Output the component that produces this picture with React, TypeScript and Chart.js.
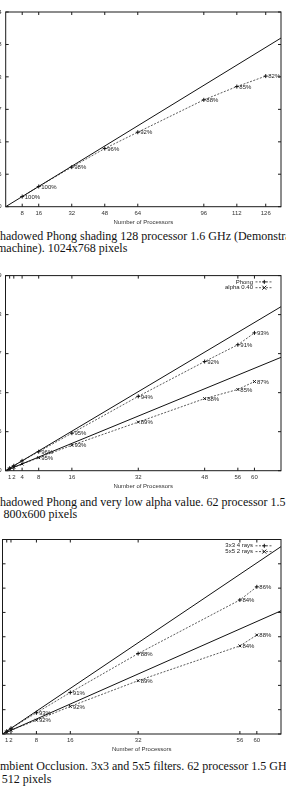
import React, { useEffect, useRef } from 'react';
import { Chart, registerables } from 'chart.js';

Chart.register(...registerables);

// ---------- Data: figure 1 (128 processors, Phong) ----------
const PROCS_1 = [8, 16, 32, 48, 64, 96, 112, 126];
const SPEEDUP_1 = [8.0, 16.0, 31.3, 46.0, 58.9, 84.5, 95.0, 103.3];
const EFF_1 = ['100%', '100%', '98%', '96%', '92%', '88%', '85%', '82%'];
const XTICKS_1 = [8, 16, 32, 48, 64, 96, 112, 126];
const YTICKS_1 = [0, 25.7, 51.3, 77, 102.7, 128.3, 154];
const IDEAL_X_1 = [0, 133.4];
const IDEAL_Y_1 = [0, 133.4];

// ---------- Data: figure 2 (Phong / alpha 0.40) ----------
const PROCS_2 = [1, 2, 4, 8, 16, 32, 48, 56, 60];
const PHONG_2 = [1, 2, 4, 7.7, 15.2, 30.1, 44.2, 51.0, 55.8];
const PHONG_EFF_2 = ['', '', '', '96%', '95%', '94%', '92%', '91%', '93%'];
const ALPHA_2 = [0.69, 1.38, 2.7, 5.25, 10.3, 19.7, 29.2, 32.9, 36.1];
const ALPHA_EFF_2 = ['', '', '', '95%', '93%', '89%', '88%', '85%', '87%'];
const XTICKS_2 = [1, 2, 4, 8, 16, 32, 48, 56, 60];
const YTICKS_2 = [0, 15.8, 31.6, 47.4, 63.2, 79];
const IDEAL_X_2 = [0, 66.4];
const IDEAL_PHONG_2 = [0, 66.4];
const IDEAL_ALPHA_2 = [0, 45.9];

// ---------- Data: figure 3 (Ambient occlusion) ----------
const PROCS_3 = [1, 2, 8, 16, 32, 56, 60];
const RAYS4_3 = [1, 2, 7.44, 14.56, 28.2, 47.0, 51.6];
const RAYS4_EFF_3 = ['', '', '93%', '91%', '88%', '84%', '86%'];
const RAYS2_3 = [0.66, 1.31, 4.84, 9.67, 18.7, 30.9, 34.7];
const RAYS2_EFF_3 = ['', '', '92%', '92%', '89%', '84%', '88%'];
const XTICKS_3 = [1, 2, 8, 16, 32, 56, 60];
const YTICKS_3 = [0, 8.53, 17.05, 25.58, 34.1, 42.63, 51.15, 59.68, 68.2];
const IDEAL_X_3 = [0, 65.7];
const IDEAL_4_3 = [0, 65.7];
const IDEAL_2_3 = [0, 43.2];

const SANS = '"Liberation Sans", Arial, sans-serif';
const SERIF = '"Liberation Serif", "Times New Roman", serif';
const PAGE_W = 286;
const SHIFT = 40;

const zip = (xs: number[], ys: number[]) => xs.map((x, i) => ({ x, y: ys[i] }));

const idealSet = (xs: number[], ys: number[]) => ({
  data: zip(xs, ys),
  showLine: true,
  borderColor: '#111',
  borderWidth: 1,
  pointRadius: 0,
  pointHoverRadius: 0,
});

const seriesSet = (xs: number[], ys: number[], labels: string[], style: string, legendLabel?: string) => ({
  data: zip(xs, ys),
  showLine: true,
  borderColor: '#333',
  borderWidth: 0.8,
  borderDash: [2, 1.5],
  pointStyle: style,
  pointRadius: 2,
  pointBorderColor: '#111',
  pointBackgroundColor: '#111',
  pointBorderWidth: 1,
  pointLabels: labels,
  legendLabel,
});

const framePlugin = {
  id: 'gnuFrame',
  afterDatasetsDraw(chart: any) {
    const { ctx, chartArea: a, scales } = chart;
    ctx.save();
    ctx.strokeStyle = '#1a1a1a';
    ctx.lineWidth = 1;
    ctx.setLineDash([]);
    ctx.strokeRect(a.left, a.top, a.right - a.left, a.bottom - a.top);
    const L = 3;
    ctx.beginPath();
    scales.x.ticks.forEach((t: any) => {
      const p = scales.x.getPixelForValue(t.value);
      ctx.moveTo(p, a.bottom); ctx.lineTo(p, a.bottom - L);
      ctx.moveTo(p, a.top); ctx.lineTo(p, a.top + L);
    });
    scales.y.ticks.forEach((t: any) => {
      const p = scales.y.getPixelForValue(t.value);
      ctx.moveTo(a.left, p); ctx.lineTo(a.left + L, p);
      ctx.moveTo(a.right, p); ctx.lineTo(a.right - L, p);
    });
    ctx.stroke();
    ctx.restore();
  },
};

const drawMarker = (ctx: CanvasRenderingContext2D, style: string, x: number, y: number, r: number) => {
  ctx.beginPath();
  if (style === 'crossRot') {
    ctx.moveTo(x - r, y - r); ctx.lineTo(x + r, y + r);
    ctx.moveTo(x - r, y + r); ctx.lineTo(x + r, y - r);
  } else {
    ctx.moveTo(x - r, y); ctx.lineTo(x + r, y);
    ctx.moveTo(x, y - r); ctx.lineTo(x, y + r);
  }
  ctx.stroke();
};

const labelPlugin = {
  id: 'gnuLabels',
  afterDatasetsDraw(chart: any) {
    const { ctx } = chart;
    ctx.save();
    ctx.font = `6px ${SANS}`;
    ctx.fillStyle = '#222';
    ctx.textAlign = 'left';
    ctx.textBaseline = 'middle';
    chart.data.datasets.forEach((ds: any, i: number) => {
      if (!ds.pointLabels) return;
      const meta = chart.getDatasetMeta(i);
      meta.data.forEach((pt: any, j: number) => {
        const txt = ds.pointLabels[j];
        if (txt) ctx.fillText(txt, pt.x + 2.5, pt.y + 0.5);
      });
    });
    ctx.restore();
  },
};

const legendPlugin = {
  id: 'gnuLegend',
  afterDraw(chart: any) {
    const { ctx, chartArea: a } = chart;
    const items = chart.data.datasets.filter((d: any) => d.legendLabel);
    if (!items.length) return;
    ctx.save();
    ctx.font = `6px ${SANS}`;
    ctx.textAlign = 'right';
    ctx.textBaseline = 'middle';
    items.forEach((ds: any, i: number) => {
      const y = a.top + 6.3 + i * 5.8;
      ctx.fillStyle = '#222';
      ctx.fillText(ds.legendLabel, a.right - 28, y);
      ctx.strokeStyle = ds.borderColor;
      ctx.lineWidth = ds.borderWidth;
      ctx.setLineDash(ds.borderDash);
      ctx.beginPath();
      ctx.moveTo(a.right - 25.5, y);
      ctx.lineTo(a.right - 8, y);
      ctx.stroke();
      ctx.setLineDash([]);
      ctx.strokeStyle = '#111';
      ctx.lineWidth = 1;
      drawMarker(ctx, ds.pointStyle, a.right - 16.7, y, 2);
    });
    ctx.restore();
  },
};

type PanelProps = {
  canvasTop: number;
  canvasHeight: number;
  area: { left: number; top: number; right: number; bottom: number };
  xMax: number;
  yMax: number;
  xTicks: number[];
  yTicks: number[];
  datasets: any[];
};

function Panel(p: PanelProps) {
  const ref = useRef<HTMLCanvasElement | null>(null);
  const width = PAGE_W + SHIFT;
  useEffect(() => {
    if (!ref.current) return;
    const xAxisH = p.canvasHeight - (p.area.bottom - p.canvasTop);
    const titlePad = Math.max(0, xAxisH - 3.6 - 15.3);
    const chart = new Chart(ref.current, {
      type: 'scatter',
      data: { datasets: p.datasets },
      options: {
        responsive: false,
        animation: false,
        events: [],
        layout: { padding: { top: p.area.top - p.canvasTop, right: PAGE_W - p.area.right, left: 0, bottom: 0 } },
        plugins: { legend: { display: false }, tooltip: { enabled: false } },
        scales: {
          x: {
            type: 'linear',
            min: 0,
            max: p.xMax,
            grid: { display: false, drawTicks: false },
            border: { display: false },
            afterBuildTicks: (s: any) => { s.ticks = p.xTicks.map((v) => ({ value: v })); },
            afterFit: (s: any) => { s.height = xAxisH; },
            ticks: { padding: 3, font: { family: SANS, size: 6 }, color: '#333', maxRotation: 0, autoSkip: false },
            title: {
              display: true,
              text: 'Number of Processors',
              font: { family: SANS, size: 6 },
              color: '#333',
              padding: { top: 0, bottom: titlePad },
            },
          },
          y: {
            type: 'linear',
            min: 0,
            max: p.yMax,
            grid: { display: false, drawTicks: false },
            border: { display: false },
            afterBuildTicks: (s: any) => { s.ticks = p.yTicks.map((v) => ({ value: v })); },
            afterFit: (s: any) => { s.width = p.area.left + SHIFT; },
            ticks: { padding: 4, font: { family: SANS, size: 6 }, color: '#333', callback: (v: any) => String(Math.round(Number(v))) },
          },
        },
      } as any,
      plugins: [framePlugin, labelPlugin, legendPlugin],
    });
    return () => chart.destroy();
  }, []);
  return (
    <canvas
      ref={ref}
      width={width}
      height={p.canvasHeight}
      style={{ position: 'absolute', left: -SHIFT, top: p.canvasTop, width, height: p.canvasHeight }}
    />
  );
}

const CAPTIONS = [
  { text: 'Shadowed Phong shading 128 processor 1.6 GHz (Demonstration', left: -6.7, top: 230 },
  { text: 'machine). 1024x768 pixels', left: -3, top: 242 },
  { text: 'Shadowed Phong and very low alpha value. 62 processor 1.5 GHz.', left: -6.7, top: 495.7 },
  { text: '800x600 pixels', left: 3.5, top: 508.2 },
  { text: 'Ambient Occlusion. 3x3 and 5x5 filters. 62 processor 1.5 GHz.', left: -8.7, top: 759.7 },
  { text: '512 pixels', left: 1.7, top: 772.7 },
];

export default function App() {
  const ds1 = [idealSet(IDEAL_X_1, IDEAL_Y_1), seriesSet(PROCS_1, SPEEDUP_1, EFF_1, 'cross')];
  const ds2 = [
    idealSet(IDEAL_X_2, IDEAL_PHONG_2),
    idealSet(IDEAL_X_2, IDEAL_ALPHA_2),
    seriesSet(PROCS_2, PHONG_2, PHONG_EFF_2, 'cross', 'Phong'),
    seriesSet(PROCS_2, ALPHA_2, ALPHA_EFF_2, 'crossRot', 'alpha 0.40'),
  ];
  const ds3 = [
    idealSet(IDEAL_X_3, IDEAL_4_3),
    idealSet(IDEAL_X_3, IDEAL_2_3),
    seriesSet(PROCS_3, RAYS4_3, RAYS4_EFF_3, 'cross', '3x3 4 rays'),
    seriesSet(PROCS_3, RAYS2_3, RAYS2_EFF_3, 'crossRot', '5x5 2 rays'),
  ];
  return (
    <div style={{ position: 'absolute', left: 0, top: 0, width: PAGE_W, height: 793, overflow: 'hidden', background: '#fff' }}>
      <Panel canvasTop={0} canvasHeight={229} area={{ left: 5.7, top: 12, right: 282.7, bottom: 206.7 }}
        xMax={133.4} yMax={154} xTicks={XTICKS_1} yTicks={YTICKS_1} datasets={ds1} />
      <Panel canvasTop={262} canvasHeight={231} area={{ left: 5.5, top: 275.6, right: 283, bottom: 470.7 }}
        xMax={66.4} yMax={79} xTicks={XTICKS_2} yTicks={YTICKS_2} datasets={ds2} />
      <Panel canvasTop={530} canvasHeight={226} area={{ left: 2.5, top: 539.5, right: 283, bottom: 734 }}
        xMax={65.7} yMax={68.2} xTicks={XTICKS_3} yTicks={YTICKS_3} datasets={ds3} />
      {CAPTIONS.map((c, i) => (
        <div key={i} style={{ position: 'absolute', left: c.left, top: c.top, whiteSpace: 'nowrap', fontFamily: SERIF, fontSize: 12, lineHeight: '12px', color: '#111' }}>
          {c.text}
        </div>
      ))}
    </div>
  );
}
